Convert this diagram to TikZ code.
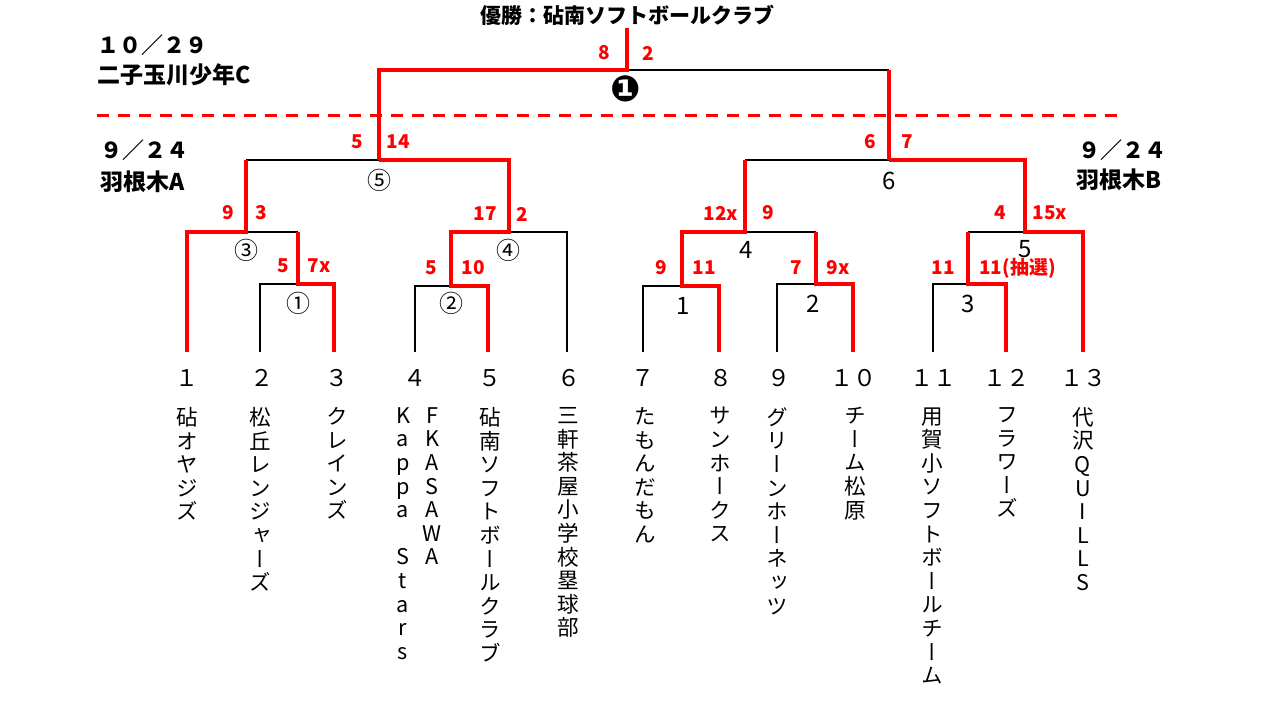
\documentclass[tikz,border=0pt]{standalone}
\usepackage{fontspec}
\newfontfamily\jp{Noto Sans CJK JP}
\newfontfamily\jpv[RawFeature=+vert]{Noto Sans CJK JP}
\newfontfamily\djv{DejaVu Sans}
\definecolor{rd}{RGB}{255,0,0}
\tikzset{
  blk/.style={draw=black, line width=1.2pt},
  redl/.style={draw=rd, line width=1.9pt},
  score/.style={text=rd, font=\jp\bfseries\fontsize{9.5}{11}\selectfont, inner sep=0},
  mnum/.style={font=\jp\fontsize{12}{13}\selectfont, inner sep=0},
  tnum/.style={font=\jp\fontsize{11.5}{13}\selectfont, inner sep=0},
  tname/.style={font=\jpv\fontsize{10.8}{11.8}\selectfont, align=center, anchor=north, inner sep=0},
  head/.style={font=\jp\bfseries\fontsize{11}{13}\selectfont, inner sep=0, anchor=west},
  headb/.style={font=\jp\bfseries\fontsize{11.5}{13}\selectfont, inner sep=0, anchor=west},
}
\begin{document}
\begin{tikzpicture}[x=0.5pt,y=-0.5pt]
\useasboundingbox (0,0) rectangle (1280,720);
\fill[white] (0,0) rectangle (1280,720);

% team bottoms
\coordinate (t1) at (187,352);
\coordinate (t2) at (260,352);
\coordinate (t3) at (334,352);
\coordinate (t4) at (415,352);
\coordinate (t5) at (488,352);
\coordinate (t6) at (567,352);
\coordinate (t7) at (643,352);
\coordinate (t8) at (719,352);
\coordinate (t9) at (777,352);
\coordinate (t10) at (853,352);
\coordinate (t11) at (933,352);
\coordinate (t12) at (1006,352);
\coordinate (t13) at (1083,352);
% match points
\coordinate (m1) at (298,284);
\coordinate (m2) at (451,286);
\coordinate (m3) at (246,232);
\coordinate (m4) at (509,232);
\coordinate (m5) at (379,160);
\coordinate (r1) at (682,286);
\coordinate (r2) at (816,284);
\coordinate (r3) at (968,284);
\coordinate (r4) at (745,232);
\coordinate (r5) at (1025,232);
\coordinate (r6) at (889,160);
\coordinate (fin) at (627,70);
\coordinate (champ) at (627,28);
\coordinate (dl) at (97,115);
\coordinate (dr) at (1120,115);

% black lines
\draw[blk] (t2) |- (m1);
\draw[blk] (m1 |- m3) -- (m3);
\draw[blk] (m3 |- m5) -- (m5);
\draw[blk] (t4) |- (m2);
\draw[blk] (t6) |- (m4);
\draw[blk] (fin) -| (r6 |- fin);
\draw[blk] (t7) |- (r1);
\draw[blk] (r4 |- r6) -- (r6);
\draw[blk] (r4) -- (r2 |- r4);
\draw[blk] (t9) |- (r2);
\draw[blk] (t11) |- (r3);
\draw[blk] (r3 |- r5) -- (r5);

% red lines
\draw[redl] (t3) |- (m1) -- (m1 |- m3);
\draw[redl] (t1) |- (m3) -- (m3 |- m5);
\draw[redl] (t5) |- (m2) -- (m2 |- m4) -- (m4) -- (m4 |- m5) -- (m5);
\draw[redl] (m5) |- (fin) -- (champ);
\draw[redl] (r6 |- fin) -- (r6);
\draw[redl] (t8) |- (r1) -- (r1 |- r4) -- (r4) -- (r4 |- r6);
\draw[redl] (r2 |- r4) -- (r2) -| (t10);
\draw[redl] (t12) |- (r3) -- (r3 |- r5);
\draw[redl] (t13) |- (r5) -- (r5 |- r6) -- (r6);

% dashed divider
\draw[rd, line width=1.5pt, dash pattern=on 6pt off 4.5pt] (dl) -- (dr);

% title and headings
\node[font=\jp\bfseries\fontsize{10.5}{12}\selectfont, inner sep=0] (title) at (627,15) {優勝：砧南ソフトボールクラブ};
\node[head] (dC) at (97,45) {１０／２９};
\node[headb] (gC) at (97,75) {二子玉川少年C};
\node[head] (dA) at (100,150) {９／２４};
\node[headb] (gA) at (100,182) {羽根木A};
\node[head] (dB) at (1078,150) {９／２４};
\node[headb] (gB) at (1076,180) {羽根木B};

% scores and match labels
\node[score] (sF1) at (604,53) {8};
\node[score] (sF2) at (648,53) {2};
\node[font=\djv\bfseries\fontsize{18}{19}\selectfont, inner sep=0] (lF) at (626,89) {❶};

\node[score] (s51) at (357,142) {5};
\node[score] (s52) at (398,142) {14};
\node[mnum] (l5) at (379,180) {⑤};
\node[score] (s31) at (228,213) {9};
\node[score] (s32) at (261,213) {3};
\node[mnum] (l3) at (246,250) {③};
\node[score] (s11) at (283,266) {5};
\node[score] (s12) at (319,266) {7x};
\node[mnum] (l1) at (298,303) {①};
\node[score] (s41) at (485,214) {17};
\node[score] (s42) at (522,214) {2};
\node[mnum] (l4) at (508,250) {④};
\node[score] (s21) at (431,268) {5};
\node[score] (s22) at (473,268) {10};
\node[mnum] (l2) at (451,303) {②};

\node[score] (b61) at (870,142) {6};
\node[score] (b62) at (907,142) {7};
\node[mnum] (k6) at (889,181) {6};
\node[score] (b41) at (721,213) {12x};
\node[score] (b42) at (768,213) {9};
\node[mnum] (k4) at (746,250) {4};
\node[score] (b11) at (661,268) {9};
\node[score] (b12) at (704,268) {11};
\node[mnum] (k1) at (683,306) {1};
\node[score] (b21) at (796,268) {7};
\node[score] (b22) at (838,268) {9x};
\node[mnum] (k2) at (813,304) {2};
\node[score] (b51) at (1000,213) {4};
\node[score] (b52) at (1050,213) {15x};
\node[mnum] (k5) at (1025,249) {5};
\node[score] (b31) at (943,268) {11};
\node[score, anchor=west] (b32) at (979,268) {11(抽選)};
\node[mnum] (k3) at (968,304) {3};

% team numbers
\node[tnum] (n1) at (187,378) {１};
\node[tnum] (n2) at (262,378) {２};
\node[tnum] (n3) at (337,378) {３};
\node[tnum] (n4) at (415,378) {４};
\node[tnum] (n5) at (490,378) {５};
\node[tnum] (n6) at (569,378) {６};
\node[tnum] (n7) at (643,378) {７};
\node[tnum] (n8) at (721,378) {８};
\node[tnum] (n9) at (779,378) {９};
\node[tnum] (n10) at (853,378) {１０};
\node[tnum] (n11) at (933,378) {１１};
\node[tnum] (n12) at (1006,378) {１２};
\node[tnum] (n13) at (1083,378) {１３};

% team names (vertical)
\node[tname] (a1) at (187,407) {砧\\オ\\ヤ\\ジ\\ズ};
\node[tname] (a2) at (260,407) {松\\丘\\レ\\ン\\ジ\\ャ\\ー\\ズ};
\node[tname] (a3) at (337,407) {ク\\レ\\イ\\ン\\ズ};
\node[tname] (a4b) at (432,407) {F\\K\\A\\S\\A\\W\\A};
\node[tname] (a4a) at (403,407) {K\\a\\p\\p\\a\\\strut\\S\\t\\a\\r\\s};
\node[tname] (a5) at (490,407) {砧\\南\\ソ\\フ\\ト\\ボ\\ー\\ル\\ク\\ラ\\ブ};
\node[tname] (a6) at (568,407) {三\\軒\\茶\\屋\\小\\学\\校\\塁\\球\\部};
\node[tname] (a7) at (645,407) {た\\も\\ん\\だ\\も\\ん};
\node[tname] (a8) at (720,407) {サ\\ン\\ホ\\ー\\ク\\ス};
\node[tname] (a9) at (777,407) {グ\\リ\\ー\\ン\\ホ\\ー\\ネ\\ッ\\ツ};
\node[tname] (a10) at (855,407) {チ\\ー\\ム\\松\\原};
\node[tname] (a11) at (932,407) {用\\賀\\小\\ソ\\フ\\ト\\ボ\\ー\\ル\\チ\\ー\\ム};
\node[tname] (a12) at (1007,407) {フ\\ラ\\ワ\\ー\\ズ};
\node[tname] (a13) at (1083,407) {代\\沢\\Q\\U\\I\\L\\L\\S};
\end{tikzpicture}
\end{document}
